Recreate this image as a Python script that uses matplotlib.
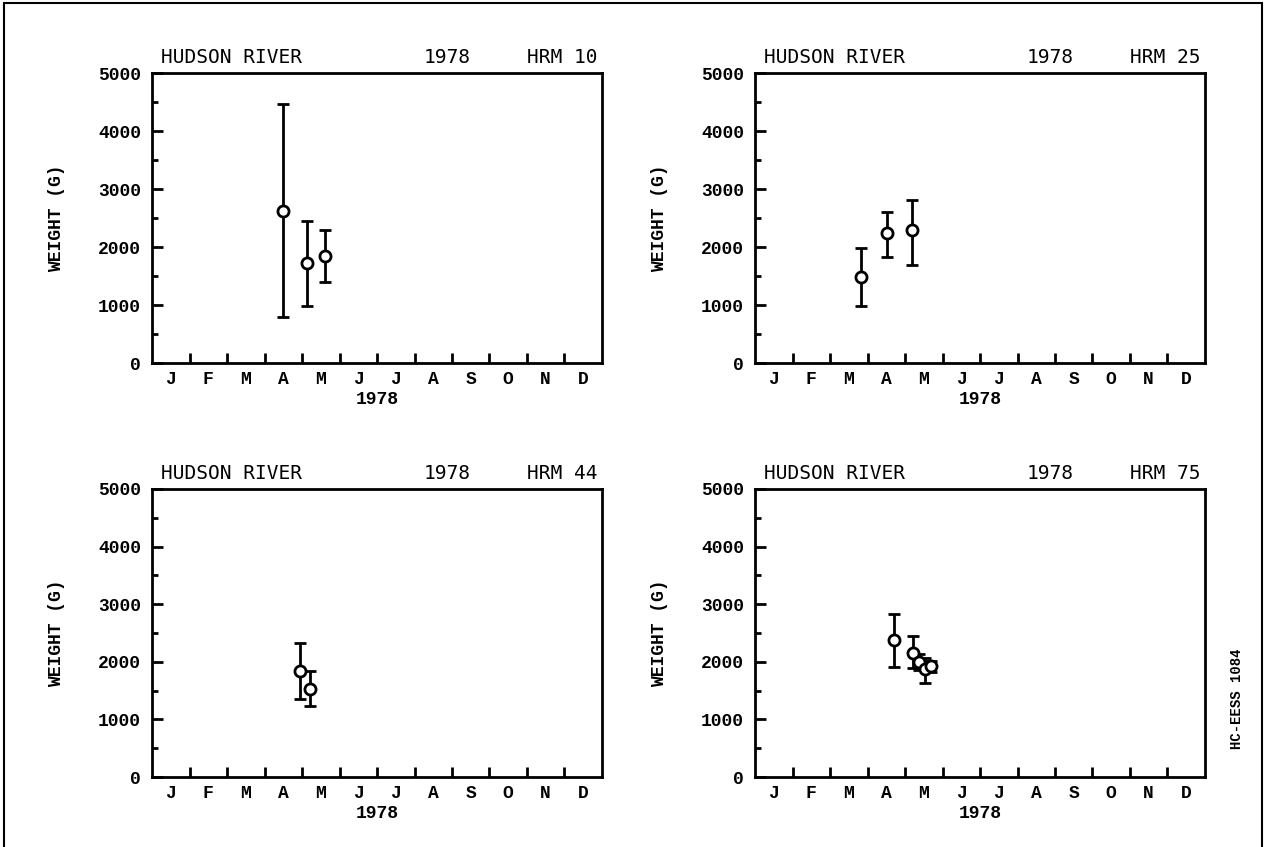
import matplotlib.pyplot as plt
import numpy as np

# month labels along the time axis
months = ['J', 'F', 'M', 'A', 'M', 'J', 'J', 'A', 'S', 'O', 'N', 'D']
year = '1978'
stations = ['HRM 10', 'HRM 25', 'HRM 44', 'HRM 75']

# sampling dates (in months from Jan 1) and mean weight (g) with error ranges
hrm10_t = [3.50, 4.12, 4.61]
hrm10_w = [2620, 1720, 1850]
hrm10_lo = [800, 990, 1400]
hrm10_hi = [4470, 2450, 2300]

hrm25_t = [2.83, 3.51, 4.18]
hrm25_w = [1490, 2240, 2290]
hrm25_lo = [990, 1830, 1690]
hrm25_hi = [1980, 2600, 2810]

hrm44_t = [3.95, 4.21]
hrm44_w = [1840, 1530]
hrm44_lo = [1350, 1230]
hrm44_hi = [2330, 1840]

hrm75_t = [3.71, 4.22, 4.38, 4.53, 4.68]
hrm75_w = [2370, 2150, 1990, 1870, 1920]
hrm75_lo = [1910, 1900, 1850, 1630, 1830]
hrm75_hi = [2830, 2450, 2130, 2070, 2010]

panels = [
    (hrm10_t, hrm10_w, hrm10_lo, hrm10_hi),
    (hrm25_t, hrm25_w, hrm25_lo, hrm25_hi),
    (hrm44_t, hrm44_w, hrm44_lo, hrm44_hi),
    (hrm75_t, hrm75_w, hrm75_lo, hrm75_hi),
]

positions = [
    [0.1201, 0.5714, 0.3554, 0.3424],
    [0.5964, 0.5714, 0.3554, 0.3424],
    [0.1201, 0.0826, 0.3554, 0.3401],
    [0.5964, 0.0826, 0.3554, 0.3401],
]

mono = 'Liberation Mono'
fig = plt.figure(figsize=(12.66, 8.47), dpi=100)

for (t, w, lo, hi), pos, name in zip(panels, positions, stations):
    ax = fig.add_axes(pos)
    t = np.array(t)
    w = np.array(w)
    yerr = [w - np.array(lo), np.array(hi) - w]
    ax.errorbar(t, w, yerr=yerr, fmt='o', color='black', ecolor='black',
                elinewidth=2, capsize=4, capthick=2, markersize=8,
                markerfacecolor='white', markeredgewidth=2, zorder=3)

    ax.set_xlim(0, 12)
    ax.set_ylim(0, 5000)
    for s in ax.spines.values():
        s.set_linewidth(2)

    # y axis: majors every 1000, minors at 500
    ax.set_yticks(np.arange(0, 5001, 1000))
    ax.set_yticks(np.arange(500, 5000, 1000), minor=True)
    ax.tick_params(axis='y', which='major', direction='in', length=8, width=2,
                   pad=8, labelsize=13)
    ax.tick_params(axis='y', which='minor', direction='in', length=4, width=2)
    for lab in ax.get_yticklabels():
        lab.set_fontfamily(mono)
        lab.set_fontweight('bold')

    # x axis: ticks at month boundaries, labels at month centres
    ax.set_xticks(np.arange(1, 12))
    ax.set_xticklabels([])
    ax.set_xticks(np.arange(12) + 0.5, minor=True)
    ax.set_xticklabels(months, minor=True, fontfamily=mono, fontweight='bold',
                       fontsize=13)
    ax.tick_params(axis='x', which='minor', length=0, pad=6)
    ax.tick_params(axis='x', which='major', direction='in', length=7, width=2)

    ax.set_xlabel(year, fontfamily=mono, fontweight='bold', fontsize=13,
                  labelpad=2)
    ax.set_ylabel('WEIGHT (G)', fontfamily=mono, fontweight='bold',
                  fontsize=13, labelpad=24)

    ax.text(0.02, 1.02, 'HUDSON RIVER', transform=ax.transAxes, ha='left',
            va='bottom', fontfamily='DejaVu Sans Mono', fontsize=14,
            fontstretch='condensed')
    ax.text(0.655, 1.02, year, transform=ax.transAxes, ha='center',
            va='bottom', fontfamily='DejaVu Sans Mono', fontsize=14)
    ax.text(0.99, 1.02, name, transform=ax.transAxes, ha='right',
            va='bottom', fontfamily='DejaVu Sans Mono', fontsize=14)

# page frame and document code
frame = plt.Rectangle((0.003, -0.01), 0.994, 1.006, transform=fig.transFigure,
                      fill=False, edgecolor='black', linewidth=1.5)
fig.patches.append(frame)
fig.text(0.977, 0.175, 'HC-EESS 1084', rotation=90, ha='center', va='center',
         fontfamily=mono, fontweight='bold', fontsize=10)

fig.savefig('out.png', dpi=100)
